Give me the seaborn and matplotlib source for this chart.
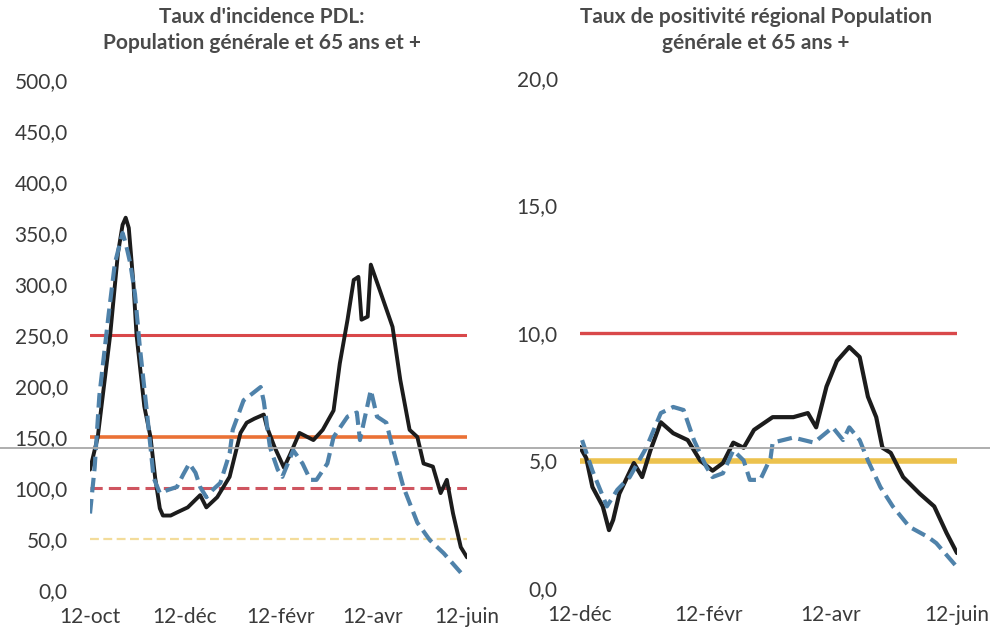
import pandas as pd
import matplotlib.pyplot as plt
import matplotlib.dates as mdates
from matplotlib.lines import Line2D
import seaborn as sns

# ------------------------
# Data
# ------------------------

# left panel: incidence rate, days after 12 Oct 2020
inc_start = '2020-10-12'
inc_gen_days = [0, 5, 13, 18, 21, 23, 25, 28, 30, 35, 39, 42, 45, 47, 52, 56, 63, 71, 75, 82,
                90, 97, 101, 106, 112, 114, 119, 125, 129, 133, 135, 144, 150, 157, 161, 166,
                170, 173, 175, 179, 181, 187, 195, 200, 206, 211, 215, 221, 226, 230, 234, 239, 243]
inc_gen = [118, 150, 250, 330, 358, 365, 355, 300, 250, 180, 150, 110, 80, 73, 73, 76, 81, 93, 81, 91,
           111, 154, 164, 168, 172, 160, 140, 120, 133, 147, 154, 147, 157, 176, 222, 265,
           304, 307, 265, 268, 319, 293, 258, 206, 157, 150, 124, 121, 95, 108, 75, 42, 32]
inc_65_days = [0, 3, 6, 12, 16, 21, 23, 26, 29, 32, 37, 41, 45, 50, 56, 60, 64, 68, 71, 75, 79, 84,
               90, 92, 99, 105, 110, 112, 116, 121, 124, 131, 137, 142, 146, 153, 157, 166, 172,
               174, 181, 185, 191, 195, 202, 211, 219, 228, 239]
inc_65 = [75, 120, 190, 270, 320, 350, 340, 320, 290, 240, 170, 110, 95, 98, 101, 113, 124, 115, 101, 91, 98, 105,
          134, 157, 186, 193, 199, 185, 140, 118, 111, 137, 124, 108, 108, 124, 150, 170, 174,
          147, 196, 170, 164, 140, 101, 66, 49, 36, 17]
inc_ticks = ['2020-10-12', '2020-12-12', '2021-02-12', '2021-04-12', '2021-06-12']
inc_end = '2021-06-12'

# right panel: positivity rate, days after 12 Dec 2020
pos_start = '2020-12-12'
pos_gen_days = [0, 3, 6, 11, 14, 16, 19, 26, 30, 34, 39, 45, 52, 58, 64, 69, 74, 79, 84, 93, 103,
                110, 114, 119, 124, 130, 135, 139, 143, 146, 150, 156, 164, 171, 177, 182]
pos_gen = [5.53, 5.1, 3.96, 3.2, 2.27, 2.67, 3.7, 4.9, 4.35, 5.4, 6.5, 6.07, 5.8, 5.0, 4.6, 4.9, 5.7, 5.5, 6.2, 6.7, 6.7,
           6.86, 6.3, 7.9, 8.9, 9.45, 9.06, 7.5, 6.7, 5.5, 5.3, 4.35, 3.7, 3.2, 2.15, 1.37]
pos_65_days = [1, 6, 13, 18, 24, 32, 39, 45, 50, 55, 61, 64, 69, 74, 79, 82, 87, 92, 93, 103, 113,
               122, 127, 130, 135, 139, 145, 151, 159, 168, 172, 182]
pos_65 = [5.8, 4.6, 3.2, 3.85, 4.35, 5.5, 6.86, 7.1, 6.98, 5.8, 4.75, 4.35, 4.5, 5.4, 5.0, 4.24, 4.24, 5.1, 5.7, 5.9, 5.7,
          6.3, 5.8, 6.3, 5.8, 5.0, 3.96, 3.2, 2.4, 2.0, 1.76, 0.82]
pos_ticks = ['2020-12-12', '2021-02-12', '2021-04-12', '2021-06-12']
pos_end = '2021-06-12'

# alert thresholds
inc_red, inc_orange, inc_red_dash, inc_yellow_dash = 250, 150, 100, 50
pos_red, pos_yellow = 10, 5

MOIS = {1: 'janv', 2: 'févr', 3: 'mars', 4: 'avr', 5: 'mai', 6: 'juin',
        7: 'juil', 8: 'août', 9: 'sept', 10: 'oct', 11: 'nov', 12: 'déc'}

TXT = '#3a3a3a'
TITLE = '#4a4a4a'
BLACK = '#1c1c1c'
BLUE = '#4f82aa'


def to_frame(start, days, values):
    return pd.DataFrame({'date': pd.to_datetime(start) + pd.to_timedelta(days, unit='D'),
                         'val': values})


def fr_date(x, pos=None):
    d = mdates.num2date(x)
    return f"{d.day}-{MOIS[d.month]}"


def style_axis(ax, start, end, ticks, ymax, ystep):
    ax.set_xlim(pd.to_datetime(start), pd.to_datetime(end))
    ax.set_ylim(0, ymax)
    ax.set_yticks([i * ystep for i in range(int(ymax / ystep) + 1)])
    ax.yaxis.set_major_formatter(lambda v, p: f"{v:.1f}".replace('.', ','))
    ax.set_xticks(pd.to_datetime(ticks))
    ax.xaxis.set_major_formatter(fr_date)
    ax.tick_params(length=0, labelsize=15, colors=TXT)
    ax.tick_params(axis='y', pad=16)
    ax.tick_params(axis='x', pad=12)
    ax.set_xlabel('')
    ax.set_ylabel('')
    for s in ax.spines.values():
        s.set_visible(False)


sns.set_style('white')
plt.rcParams['font.family'] = ['Lato', 'DejaVu Sans']

fig = plt.figure(figsize=(9.9, 6.31), dpi=100)
H = 631
ax1 = fig.add_axes([90 / 990, (H - 590) / H, 377 / 990, 510 / H])
ax2 = fig.add_axes([580 / 990, (H - 588) / H, 377 / 990, 510 / H])

# ------------------------
# Left: taux d'incidence
# ------------------------
ax1.axhline(inc_red, color='#d9484a', lw=2.2)
ax1.axhline(inc_orange, color='#ea7135', lw=2.6)
ax1.axhline(inc_red_dash, color='#cf5560', lw=2.2, ls=(0, (4, 2)))
ax1.axhline(inc_yellow_dash, color='#f3dc9a', lw=1.6, ls=(0, (4, 2)))
sns.lineplot(data=to_frame(inc_start, inc_gen_days, inc_gen), x='date', y='val', ax=ax1,
             color=BLACK, lw=2.8)
sns.lineplot(data=to_frame(inc_start, inc_65_days, inc_65), x='date', y='val', ax=ax1,
             color=BLUE, lw=3, ls=(0, (3.5, 1.6)))
style_axis(ax1, inc_start, inc_end, inc_ticks, 500, 50)

# ------------------------
# Right: taux de positivité
# ------------------------
ax2.axhline(pos_red, color='#d9484a', lw=2.4)
ax2.axhline(pos_yellow, color='#ecc24e', lw=4)
sns.lineplot(data=to_frame(pos_start, pos_gen_days, pos_gen), x='date', y='val', ax=ax2,
             color=BLACK, lw=3)
sns.lineplot(data=to_frame(pos_start, pos_65_days, pos_65), x='date', y='val', ax=ax2,
             color=BLUE, lw=3, ls=(0, (3.5, 1.6)))
style_axis(ax2, pos_start, pos_end, pos_ticks, 20, 5)

# titles
fig.text(262 / 990, 1 - 17 / H, "Taux d'incidence PDL:", ha='center', va='center',
         fontsize=15, fontweight='bold', color=TITLE)
fig.text(262 / 990, 1 - 43 / H, "Population générale et 65 ans et +", ha='center', va='center',
         fontsize=15, fontweight='bold', color=TITLE)
fig.text(756 / 990, 1 - 17 / H, "Taux de positivité régional Population", ha='center', va='center',
         fontsize=15, fontweight='bold', color=TITLE)
fig.text(756 / 990, 1 - 43 / H, "générale et 65 ans +", ha='center', va='center',
         fontsize=15, fontweight='bold', color=TITLE)

# grey rule running across the scanned page
fig.add_artist(Line2D([0, 1], [1 - 448 / H, 1 - 448 / H], color='#a8a8a8', lw=1.3,
                      transform=fig.transFigure))

fig.savefig('out.png', dpi=100)
